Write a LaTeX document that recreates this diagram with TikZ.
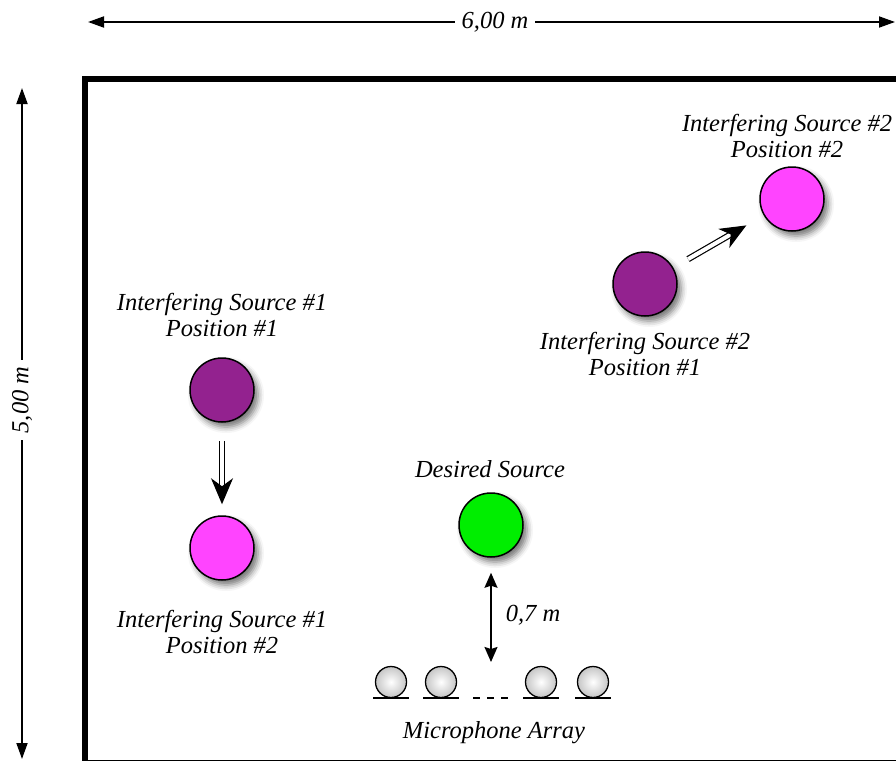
\documentclass[tikz,border=0pt]{standalone}
\usepackage{fontspec}
\setmainfont{Liberation Serif}
\usetikzlibrary{arrows.meta,shadows.blur}

\definecolor{srcpurple}{HTML}{93228F}
\definecolor{srcmagenta}{HTML}{FF44FF}
\definecolor{srcgreen}{HTML}{00EE00}

\begin{document}
\begin{tikzpicture}[x=1pt,y=-1pt,
  src/.style={circle, draw=black, line width=1.5pt, minimum size=64pt, inner sep=0pt,
    blur shadow={shadow xshift=4pt, shadow yshift=-5pt, shadow blur radius=6pt, shadow opacity=55}},
  lbl/.style={font=\fontsize{24.5}{26}\selectfont\itshape, align=center, inner sep=0pt},
  mic/.style={circle, draw=black, line width=1.3pt, minimum size=31pt, inner sep=0pt,
    inner color=white, outer color=gray!45},
  base/.style={line width=1.5pt},
  dimline/.style={line width=1.8pt, {Triangle[length=16pt,width=11pt]}-{Triangle[length=16pt,width=11pt]}},
  gapline/.style={line width=1.5pt, {Stealth[length=15pt,width=13pt,inset=2pt]}-{Stealth[length=15pt,width=13pt,inset=2pt]}},
  move/.style={double, double distance=4pt, line width=1.2pt, -{Stealth[length=26pt,width=22pt,inset=8pt]}},
  dimlbl/.style={font=\fontsize{24.5}{26}\selectfont\itshape, fill=white, inner sep=7pt},
]
\useasboundingbox (0,0) rectangle (896,760);
\clip (0,0) rectangle (896,760);

% room outline
\draw[line width=6pt] (85,79) rectangle (905,763);

% overall dimensions
\coordinate (wl) at (88,22);
\coordinate (wr) at (895,22);
\draw[dimline] (wl) -- (wr);
\node[dimlbl] (wlab) at (495,22) {6,00 m};

\coordinate (ht) at (22,88);
\coordinate (hb) at (22,759);
\draw[dimline] (ht) -- (hb);
\node[dimlbl, rotate=90] (hlab) at (22,400) {5,00 m};

% sources
\node[src, fill=srcpurple]  (s1a) at (222,390) {};
\node[src, fill=srcmagenta] (s1b) at (222,548) {};
\node[src, fill=srcpurple]  (s2a) at (645,284) {};
\node[src, fill=srcmagenta] (s2b) at (792,199) {};
\node[src, fill=srcgreen]   (ds)  at (491,525) {};

\node[lbl] (l1a) at (222,315) {Interfering Source \#1\\Position \#1};
\node[lbl] (l1b) at (222,632) {Interfering Source \#1\\Position \#2};
\node[lbl] (l2a) at (645,354) {Interfering Source \#2\\Position \#1};
\node[lbl] (l2b) at (787,136) {Interfering Source \#2\\Position \#2};
\node[lbl] (lds) at (490,469) {Desired Source};

% source movements
\draw[move, shorten <=18pt, shorten >=11pt] (s1a) -- (s1b);
\draw[move, shorten <=17pt, shorten >=20pt] (s2a) -- (s2b);

% microphone array
\node[mic] (m1) at (391,682) {};
\node[mic] (m2) at (441,682) {};
\node[mic] (m3) at (541,682) {};
\node[mic] (m4) at (593,682) {};
\foreach \m in {m1,m2,m3,m4}
  \draw[base] (\m.south) ++(-18,0) -- ++(36,0);
\coordinate (dl) at (473,698);
\coordinate (dr) at (508,698);
\draw[base, dash pattern=on 7pt off 7pt] (dl) -- (dr);
\node[lbl] (lmic) at (494,733) {Microphone Array};

% distance to the array
\coordinate (gapend) at (491,662);
\draw[gapline, shorten <=15pt] (ds) -- (gapend);
\node[lbl] (lgap) at (533,615) {0,7 m};
\end{tikzpicture}
\end{document}
